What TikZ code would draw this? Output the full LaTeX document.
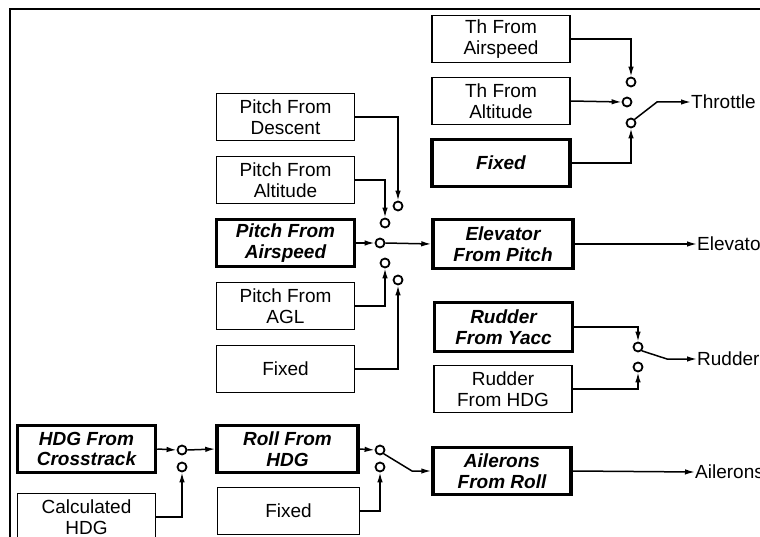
\documentclass[tikz,border=0pt]{standalone}
\usepackage{fontspec}
\setmainfont{Liberation Sans}
\usetikzlibrary{arrows.meta}
\usetikzlibrary{calc}

\begin{document}
\begin{tikzpicture}[x=1pt,y=-1pt,
    box/.style={draw, line width=1.5pt, minimum width=138pt, minimum height=47pt,
      align=center, inner sep=1pt, font=\fontsize{19}{20.5}\selectfont},
    selbox/.style={box, line width=3.5pt,
      font=\fontsize{19}{20.5}\selectfont\bfseries\itshape},
    sw/.style={circle, draw, line width=1.8pt, inner sep=0pt, minimum size=9pt},
    arr/.style={line width=1.5pt, -{Latex[length=10pt,width=5.5pt]}},
    wire/.style={line width=1.5pt},
    lbl/.style={anchor=west, inner sep=0pt, font=\fontsize{19}{20.5}\selectfont}]

  \clip (0,0) rectangle (760,537);

  % frame
  \draw[wire] (10,537) -- (10,9) -- (760,9);

  % throttle
  \node[box] (thAir) at (501,39) {Th From\\Airspeed};
  \node[box] (thAlt) at (501,101) {Th From\\Altitude};
  \node[selbox] (thFix) at (501,163) {Fixed};
  \node[sw] (thS1) at (631,82) {};
  \node[sw] (thS2) at (627,102) {};
  \node[sw] (thS3) at (631,123) {};
  \coordinate (thK) at (657,102);
  \node[lbl] (thr) at (691,102) {Throttle};
  \draw[arr] (thAir.east) -| (thS1.north);
  \draw[arr] (thAlt.east) -- (thS2.west);
  \draw[arr] (thFix.east) -| (thS3.south);
  \draw[arr] (thS3.north east) -- (thK) -- (thr.west);

  % pitch
  \node[box] (piDes) at (285.5,117) {Pitch From\\Descent};
  \node[box] (piAlt) at (285.5,180) {Pitch From\\Altitude};
  \node[selbox] (piAir) at (285.5,243) {Pitch From\\Airspeed};
  \node[box] (piAgl) at (285.5,306) {Pitch From\\AGL};
  \node[box] (piFix) at (285.5,369) {Fixed};
  \node[sw] (piS1) at (398,206) {};
  \node[sw] (piS2) at (385,223) {};
  \node[sw] (piS3) at (380,243) {};
  \node[sw] (piS4) at (385,263) {};
  \node[sw] (piS5) at (398,280) {};
  \draw[arr] (piDes.east) -| (piS1.north);
  \draw[arr] (piAlt.east) -| (piS2.north);
  \draw[arr] (piAir.east) -- (piS3.west);
  \draw[arr] (piAgl.east) -| (piS4.south);
  \draw[arr] (piFix.east) -| (piS5.south);

  % elevator
  \node[selbox, minimum width=140pt, minimum height=49pt] (elev) at (503,244)
    {Elevator\\From Pitch};
  \node[lbl] (elv) at (697,244) {Elevator};
  \draw[arr] (piS3.east) -- (elev.west);
  \draw[arr] (elev.east) -- (elv.west);

  % rudder
  \node[selbox, minimum height=49pt] (rdYac) at (503.5,327) {Rudder\\From Yacc};
  \node[box] (rdHdg) at (503,389) {Rudder\\From HDG};
  \node[sw] (rdS1) at (638,347) {};
  \node[sw] (rdS2) at (638,367) {};
  \coordinate (rdK) at (667,359);
  \node[lbl] (rud) at (697,359) {Rudder};
  \draw[arr] (rdYac.east) -| (rdS1.north);
  \draw[arr] (rdHdg.east) -| (rdS2.south);
  \draw[arr] (rdS1.south east) -- (rdK) -- (rud.west);

  % heading and roll
  \node[selbox] (hdCt) at (86.5,449) {HDG From\\Crosstrack};
  \node[box] (hdCal) at (86.5,517) {Calculated\\HDG};
  \node[sw] (hdS1) at (182,450) {};
  \node[sw] (hdS2) at (182,467) {};
  \node[selbox, minimum width=141pt] (roll) at (287.5,449) {Roll From\\HDG};
  \node[box, minimum width=142pt] (rlFix) at (288.5,511) {Fixed};
  \node[sw] (rlS1) at (380,450) {};
  \node[sw] (rlS2) at (380,467) {};
  \draw[arr] (hdCt.east) -- (hdS1.west);
  \draw[arr] (hdCal.east) -| (hdS2.south);
  \draw[arr] (hdS1.east) -- (roll.west);
  \draw[arr] (roll.east) -- (rlS1.west);
  \draw[arr] (rlFix.east) -| (rlS2.south);

  % ailerons
  \node[selbox] (ail) at (502,471) {Ailerons\\From Roll};
  \coordinate (rlK) at (412,471);
  \node[lbl] (ailr) at (695,472) {Ailerons};
  \draw[arr] (rlS1.south east) -- (rlK) -- (ail.west);
  \draw[arr] (ail.east) -- (ailr.west);
\end{tikzpicture}
\end{document}
